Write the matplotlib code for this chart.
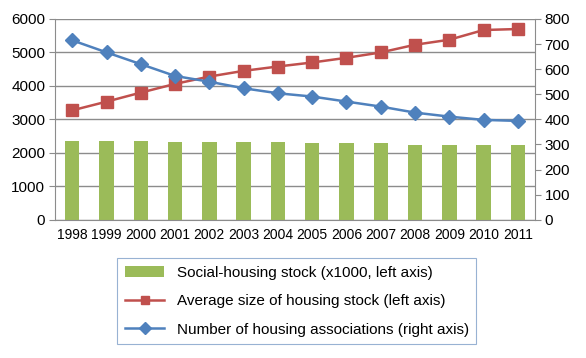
import numpy as np
import matplotlib
matplotlib.use("Agg")
import matplotlib.pyplot as plt

years = ["1998", "1999", "2000", "2001", "2002", "2003", "2004",
         "2005", "2006", "2007", "2008", "2009", "2010", "2011"]
social_stock = [2350, 2350, 2350, 2320, 2320, 2320, 2320,
                2290, 2290, 2290, 2240, 2240, 2240, 2240]
avg_size = [3270, 3530, 3800, 4060, 4280, 4450, 4580,
            4700, 4840, 5000, 5230, 5380, 5670, 5700]
n_assoc = [715, 667, 620, 573, 550, 524, 504,
           491, 471, 451, 427, 411, 398, 394]

plt.rcParams['font.family'] = ['Liberation Sans', 'DejaVu Sans']

fig = plt.figure(figsize=(5.86, 3.58), dpi=100)
ax = fig.add_axes([0.094, 0.386, 0.819, 0.561])
ax2 = ax.twinx()

x = np.arange(len(years))
grey = "#8c8c8c"

# Bars and red line on left axis
bars = ax.bar(x, social_stock, width=0.42, color="#9BBB59", zorder=2,
              label="Social-housing stock (x1000, left axis)")
line1, = ax.plot(x, avg_size, color="#C0504D", marker="s", markersize=8,
                 linewidth=1.8, zorder=3, label="Average size of housing stock (left axis)")
# Blue line on right axis
line2, = ax2.plot(x, n_assoc, color="#4F81BD", marker="D", markersize=7.5,
                  linewidth=1.8, zorder=3, label="Number of housing associations (right axis)")

ax.set_ylim(0, 6000)
ax.set_yticks(range(0, 6001, 1000))
ax2.set_ylim(0, 800)
ax2.set_yticks(range(0, 801, 100))
ax.set_xlim(-0.5, len(years) - 0.5)
ax.set_xticks(x)
ax.set_xticklabels(years)

ax.yaxis.grid(True, color=grey, linewidth=1, zorder=0)
ax.set_axisbelow(True)

for a in (ax, ax2):
    for s in a.spines.values():
        s.set_color(grey)
    a.spines['top'].set_visible(False)
ax.spines['right'].set_visible(False)
ax2.spines['left'].set_visible(False)
ax2.spines['bottom'].set_visible(False)

ax.tick_params(axis='y', length=4, color=grey, labelsize=11, pad=3)
ax.tick_params(axis='x', length=0, labelsize=10, pad=6)
ax2.tick_params(axis='y', length=4, color=grey, labelsize=11, pad=3)

leg = fig.legend(handles=[bars, line1, line2], loc="upper left",
                 bbox_to_anchor=(117 / 586, 1 - 258 / 358), borderaxespad=0,
                 fontsize=11, frameon=True, fancybox=False, edgecolor="#7f9fc8",
                 borderpad=0.5, labelspacing=0.95, handlelength=2.6,
                 handletextpad=0.8, markerscale=0.75)
leg.get_frame().set_linewidth(0.8)

fig.savefig("out.png", dpi=100)
